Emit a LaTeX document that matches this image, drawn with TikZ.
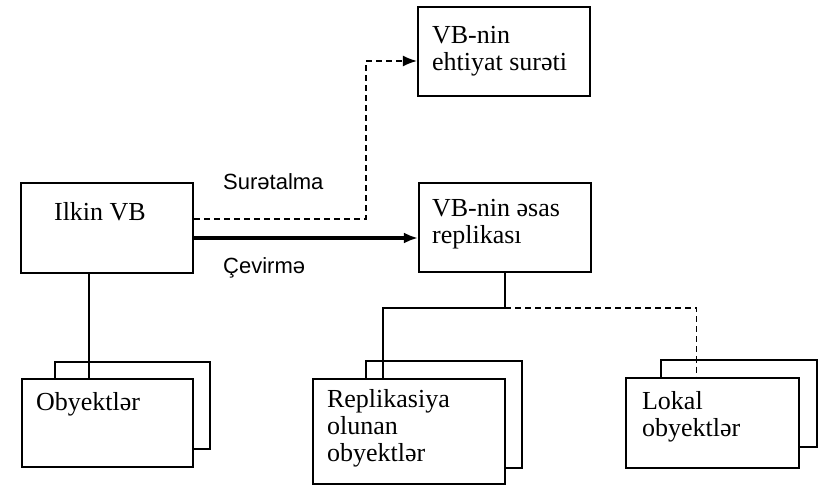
\documentclass[tikz,border=0pt]{standalone}
\usepackage{fontspec}
\setmainfont{Liberation Serif}
\newfontfamily\capsans{Liberation Sans}
\usetikzlibrary{arrows.meta,calc}
\tikzset{
  >={Latex[length=14pt,width=11pt]},
  box/.style={draw,line width=2.2pt,fill=white,inner sep=0pt},
  txt/.style={font=\fontsize{26}{27}\selectfont,align=left,inner sep=0pt,anchor=north west},
  lab/.style={font=\capsans\fontsize{22}{22}\selectfont,inner sep=0pt,anchor=west},
  link/.style={line width=1.5pt},
  dlink/.style={link,dash pattern=on 6pt off 4pt},
}

\begin{document}
\begin{tikzpicture}[x=1pt,y=-1pt]
  \useasboundingbox (0,0) rectangle (822,486);
  % upper boxes
  \node[box,minimum width=172pt,minimum height=90pt] (ilkin) at (107,228) {};
  \node[box,minimum width=172pt,minimum height=89pt] (ehtiyat) at (504,51.5) {};
  \node[box,minimum width=172pt,minimum height=89pt] (esas) at (505,227.5) {};
  % object stacks
  \node[box,minimum width=155pt,minimum height=87pt] (objB) at (132.5,405.5) {};
  \node[box,minimum width=171pt,minimum height=88pt] (obj) at (107.5,423) {};
  \node[box,minimum width=156pt,minimum height=107pt] (replB) at (444,414.5) {};
  \node[box,minimum width=192pt,minimum height=105pt] (repl) at (409,431.5) {};
  \node[box,minimum width=156pt,minimum height=87pt] (lokB) at (739,403.5) {};
  \node[box,minimum width=173pt,minimum height=90pt] (lokal) at (712.5,423) {};
  % texts
  \node[txt] (tIlkin) at ($(ilkin.north west)+(34,20)$) {Ilkin VB};
  \node[txt] (tEhtiyat) at ($(ehtiyat.north west)+(15,20)$) {VB-nin\\ehtiyat surəti};
  \node[txt] (tEsas) at ($(esas.north west)+(14,17)$) {VB-nin əsas\\replikası};
  \node[txt] (tObj) at ($(obj.north west)+(15,14)$) {Obyektlər};
  \node[txt] (tRepl) at ($(repl.north west)+(15,11)$) {Replikasiya\\olunan\\obyektlər};
  \node[txt] (tLokal) at ($(lokal.north west)+(17,14)$) {Lokal\\obyektlər};
  \node[lab] (copy) at (223,182) {Surətalma};
  \node[lab] (conv) at (223,268) {Çevirmə};
  % connectors
  \coordinate (turn) at (366,61);
  \draw[dlink,->] ([yshift=9pt]ilkin.east) -| (turn) -- (turn -| ehtiyat.west);
  \draw[line width=4.5pt,->] ([yshift=-10pt]ilkin.east) -- ([yshift=-10pt]ilkin.east -| esas.west);
  \draw[link] ([xshift=-18pt]ilkin.south) -- ([xshift=-18pt]ilkin.south |- obj.north);
  \coordinate (fork) at (esas.south |- 0,308);
  \draw[link] (esas.south) -- (fork) -| ([xshift=-26pt]repl.north);
  \draw[dlink] (fork) -| ([xshift=-16pt]lokal.north);
\end{tikzpicture}
\end{document}
